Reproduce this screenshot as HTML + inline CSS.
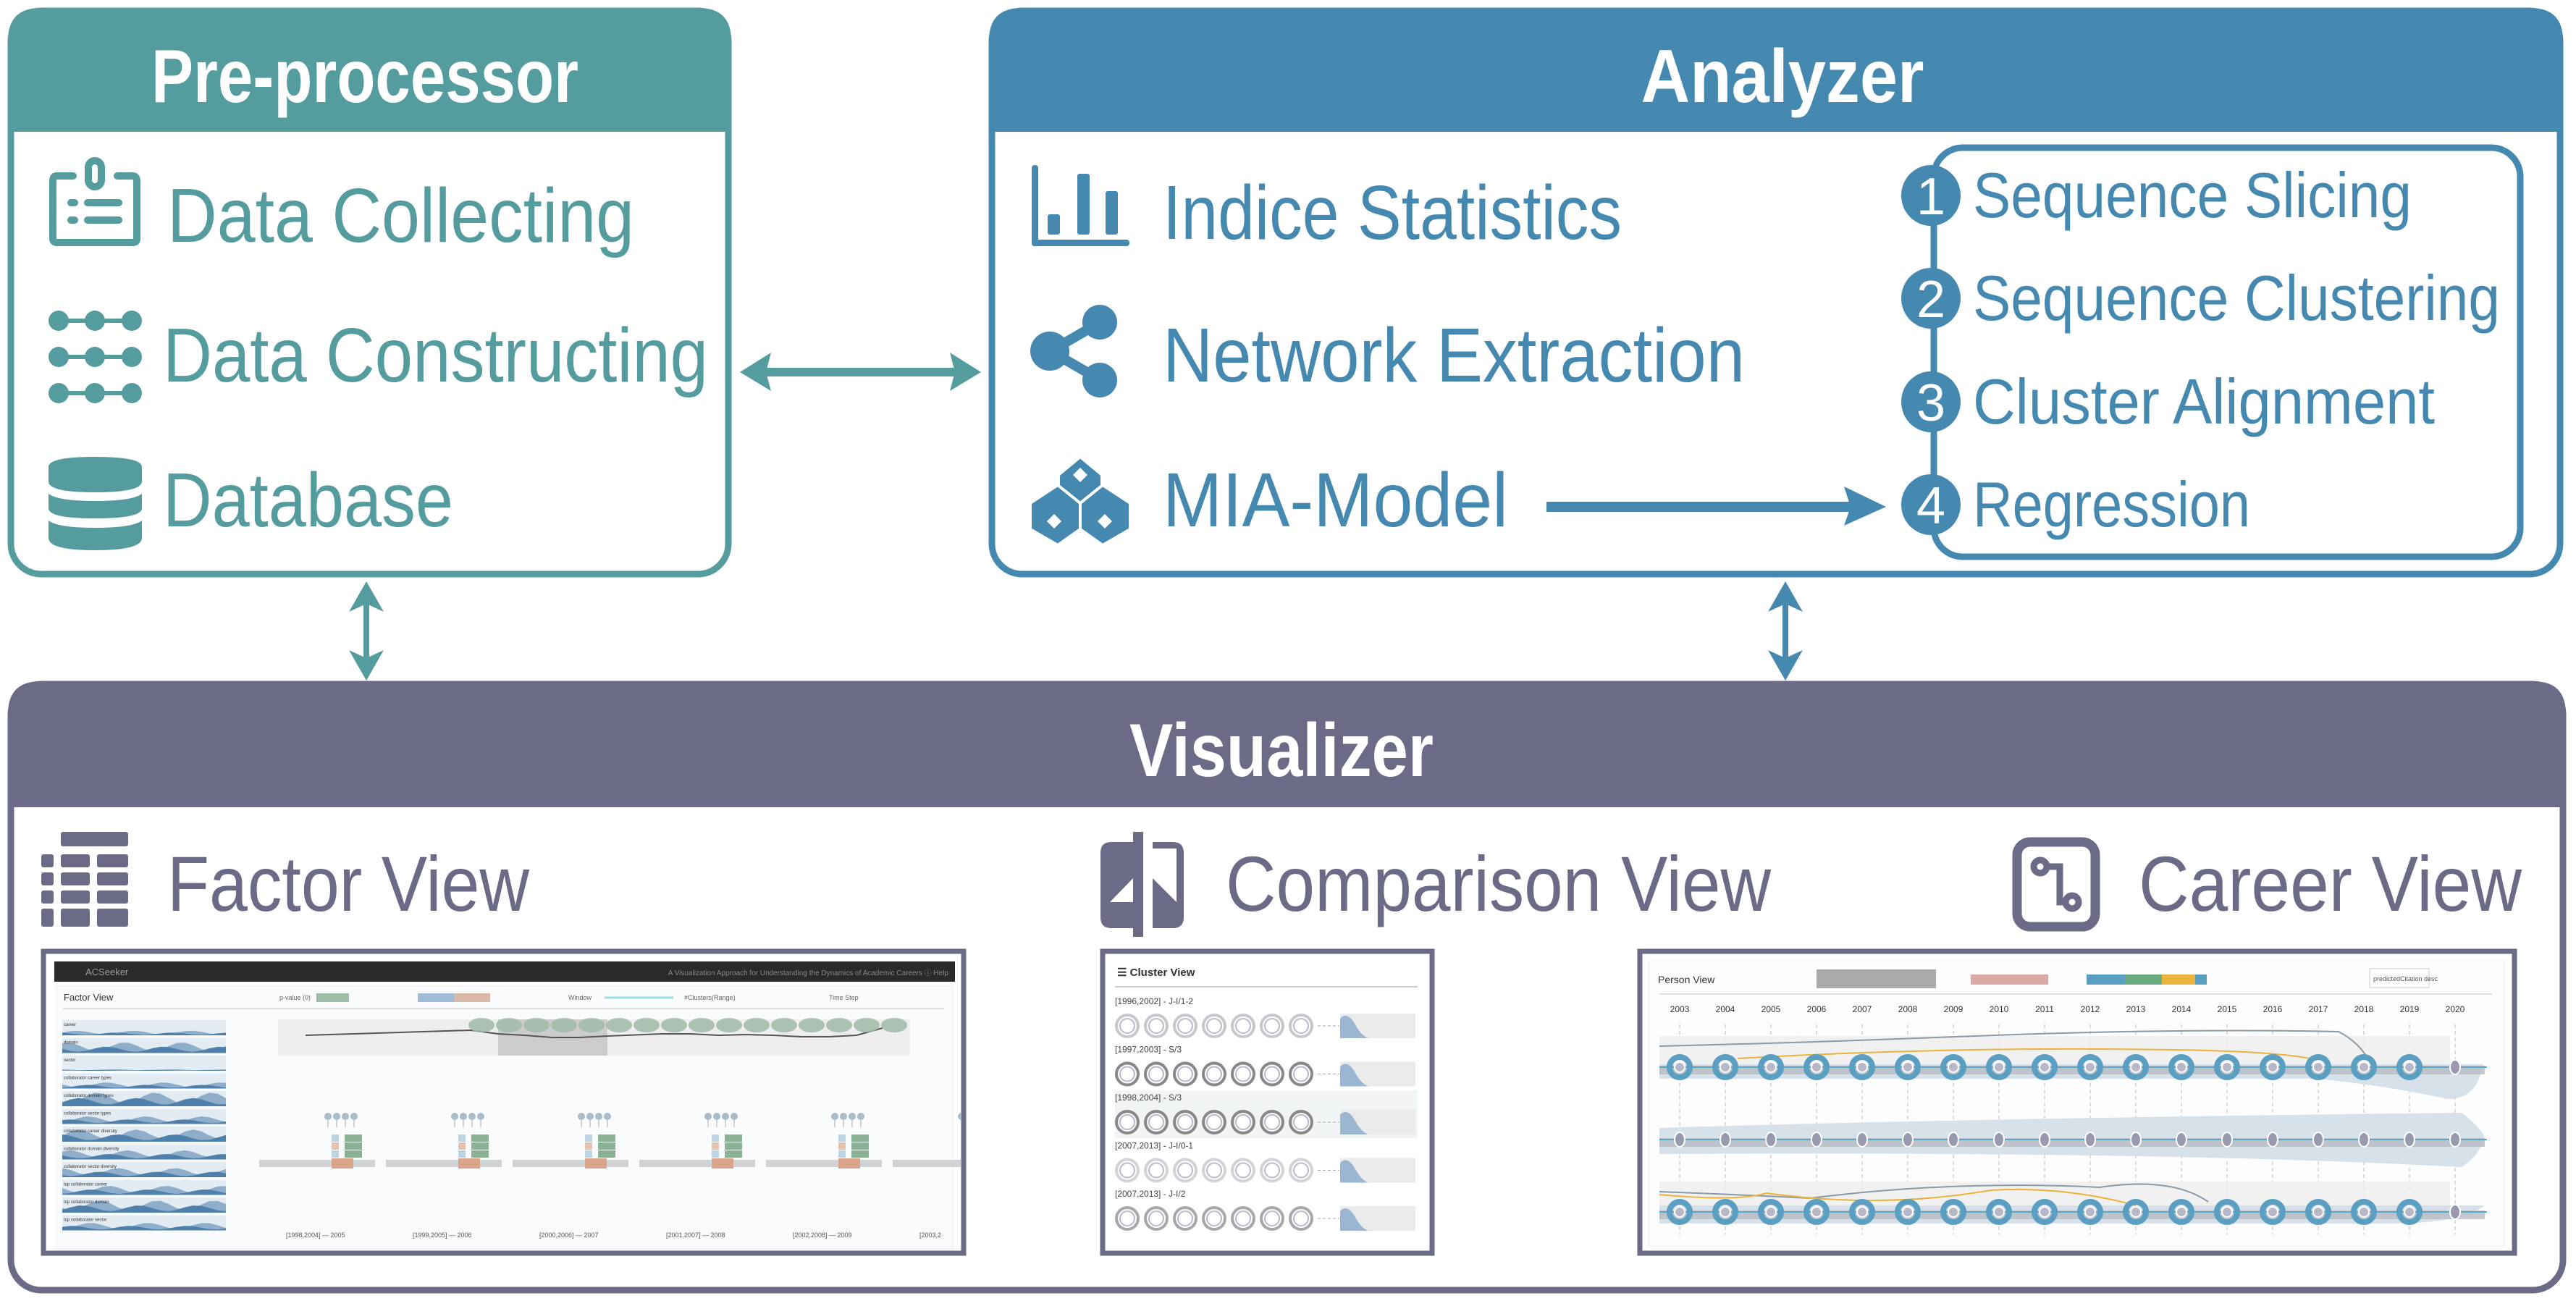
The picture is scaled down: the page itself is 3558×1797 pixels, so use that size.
<!DOCTYPE html>
<html><head><meta charset="utf-8"><style>
html,body{margin:0;padding:0;background:#fff;}
svg{display:block;}
text{font-family:"Liberation Sans",sans-serif;}
</style></head><body>
<svg id="s" width="3558" height="1797" viewBox="0 0 3558 1797" xmlns="http://www.w3.org/2000/svg">
<defs><clipPath id="fclip"><rect x="64" y="1318" width="1263" height="409"/></clipPath></defs>
<!-- Pre-processor -->
<path d="M11,182 V56 Q11,11 56,11 H965 Q1010,11 1010,56 V182 Z" fill="#559c9e"/>
<rect x="15" y="15" width="991" height="778" rx="42" fill="none" stroke="#559c9e" stroke-width="9"/>
<text x="504" y="141" text-anchor="middle" font-size="104" font-weight="bold" fill="#fff" textLength="590" lengthAdjust="spacingAndGlyphs">Pre-processor</text>
<g fill="none" stroke="#559c9e" stroke-width="10" stroke-linecap="round">
<path d="M101,243 H78 Q73,243 73,250 V330 Q73,335 80,335 H183 Q189,335 189,330 V250 Q189,243 183,243 H162"/>
<rect x="122" y="222" width="18" height="36" rx="9"/>
<line x1="98" y1="280" x2="103" y2="280"/><line x1="121" y1="280" x2="164" y2="280"/>
<line x1="98" y1="304" x2="103" y2="304"/><line x1="121" y1="304" x2="164" y2="304"/>
</g>
<g fill="#559c9e" stroke="#559c9e" stroke-width="6">
<line x1="81" y1="443" x2="182" y2="443"/><line x1="81" y1="493" x2="182" y2="493"/><line x1="81" y1="543" x2="182" y2="543"/>
</g>
<g fill="#559c9e">
<ellipse cx="81" cy="443" rx="14" ry="14"/><ellipse cx="131" cy="443" rx="14" ry="14"/><ellipse cx="182" cy="443" rx="14" ry="14"/>
<ellipse cx="81" cy="493" rx="14" ry="14"/><ellipse cx="131" cy="493" rx="14" ry="14"/><ellipse cx="182" cy="493" rx="14" ry="14"/>
<ellipse cx="81" cy="543" rx="14" ry="14"/><ellipse cx="131" cy="543" rx="14" ry="14"/><ellipse cx="182" cy="543" rx="14" ry="14"/>
</g>
<g fill="#559c9e">
<path d="M67,645 Q67,631 131,631 Q196,631 196,645 V665 Q196,680 131,680 Q67,680 67,665 Z"/>
<path d="M67,682 Q80,692 131,692 Q183,692 196,682 V702 Q196,716 131,716 Q67,716 67,702 Z"/>
<path d="M67,719 Q80,729 131,729 Q183,729 196,719 V743 Q196,760 131,760 Q67,760 67,743 Z"/>
</g>
<g fill="#559c9e" font-size="106">
<text x="231" y="334" textLength="645" lengthAdjust="spacingAndGlyphs">Data Collecting</text>
<text x="225" y="527" textLength="753" lengthAdjust="spacingAndGlyphs">Data Constructing</text>
<text x="225" y="727" textLength="401" lengthAdjust="spacingAndGlyphs">Database</text>
</g>

<!-- Analyzer -->
<path d="M1366,182 V56 Q1366,11 1411,11 H3495 Q3540,11 3540,56 V182 Z" fill="#4689b0"/>
<rect x="1370" y="15" width="2166" height="778" rx="42" fill="none" stroke="#4689b0" stroke-width="9"/>
<text x="2462" y="141" text-anchor="middle" font-size="104" font-weight="bold" fill="#fff" textLength="391" lengthAdjust="spacingAndGlyphs">Analyzer</text>
<g fill="#4689b0">
<rect x="1425" y="228" width="9" height="112" rx="4"/>
<rect x="1425" y="331" width="135" height="9" rx="4"/>
<rect x="1447" y="296" width="17" height="28" rx="3"/>
<rect x="1488" y="240" width="17" height="84" rx="3"/>
<rect x="1527" y="264" width="17" height="60" rx="3"/>
</g>
<g fill="#4689b0" stroke="#4689b0">
<line x1="1451" y1="485" x2="1520" y2="445" stroke-width="14"/>
<line x1="1451" y1="485" x2="1520" y2="525" stroke-width="14"/>
<circle cx="1519" cy="445" r="24" stroke="none"/>
<circle cx="1450" cy="485" r="27" stroke="none"/>
<circle cx="1519" cy="525" r="24" stroke="none"/>
</g>
<g fill="#4689b0" stroke="#fff" stroke-width="4">
<polygon points="1492,631 1522,656 1522,692 1492,717 1462,692 1462,656"/>
<polygon points="1461,670 1492,695 1492,731 1461,753 1423,731 1423,695"/>
<polygon points="1523,670 1561,695 1561,731 1523,753 1492,731 1492,695"/>
</g>
<g fill="#fff"><polygon points="1492,646 1502,656 1492,666 1482,656"/><polygon points="1456,710 1466,720 1456,730 1446,720"/><polygon points="1526,710 1536,720 1526,730 1516,720"/></g>
<g fill="#4689b0" font-size="106">
<text x="1606" y="330" textLength="634" lengthAdjust="spacingAndGlyphs">Indice Statistics</text>
<text x="1606" y="527" textLength="804" lengthAdjust="spacingAndGlyphs">Network Extraction</text>
<text x="1606" y="727" textLength="477" lengthAdjust="spacingAndGlyphs">MIA-Model</text>
</g>
<rect x="2671" y="204" width="810" height="565" rx="40" fill="none" stroke="#4689b0" stroke-width="9"/>
<g fill="#4689b0"><ellipse cx="2667" cy="270" rx="41" ry="42"/><ellipse cx="2667" cy="412" rx="41" ry="42"/><ellipse cx="2667" cy="555" rx="41" ry="42"/><ellipse cx="2667" cy="697" rx="41" ry="42"/></g>
<g fill="#fff" font-size="72" text-anchor="middle">
<text x="2667" y="296">1</text><text x="2667" y="438">2</text><text x="2667" y="581">3</text><text x="2667" y="723">4</text>
</g>
<g fill="#4689b0" font-size="88">
<text x="2725" y="300" textLength="606" lengthAdjust="spacingAndGlyphs">Sequence Slicing</text>
<text x="2725" y="442" textLength="728" lengthAdjust="spacingAndGlyphs">Sequence Clustering</text>
<text x="2725" y="585" textLength="638" lengthAdjust="spacingAndGlyphs">Cluster Alignment</text>
<text x="2725" y="727" textLength="383" lengthAdjust="spacingAndGlyphs">Regression</text>
</g>
<line x1="2136" y1="700" x2="2590" y2="700" stroke="#4689b0" stroke-width="14"/>
<polygon points="2547,672 2605,700 2547,726 2556,700" fill="#4689b0"/>
<line x1="1040" y1="514" x2="1337" y2="514" stroke="#559c9e" stroke-width="12"/>
<polygon points="1022,514 1065,487 1058,514 1065,540" fill="#559c9e"/>
<polygon points="1355,514 1312,487 1319,514 1312,540" fill="#559c9e"/>
<line x1="506" y1="820" x2="506" y2="925" stroke="#559c9e" stroke-width="8"/>
<polygon points="506,803 530,845 506,834 482,845" fill="#559c9e"/>
<polygon points="506,940 530,898 506,909 482,898" fill="#559c9e"/>
<line x1="2466" y1="820" x2="2466" y2="925" stroke="#4689b0" stroke-width="8"/>
<polygon points="2466,803 2490,845 2466,834 2442,845" fill="#4689b0"/>
<polygon points="2466,940 2490,898 2466,909 2442,898" fill="#4689b0"/>

<!-- Visualizer -->
<path d="M11,1115 V986 Q11,941 56,941 H3499 Q3544,941 3544,986 V1115 Z" fill="#6b6a87"/>
<rect x="15" y="945" width="3525" height="837" rx="42" fill="none" stroke="#6b6a87" stroke-width="9"/>
<text x="1770" y="1072" text-anchor="middle" font-size="104" font-weight="bold" fill="#fff" textLength="420" lengthAdjust="spacingAndGlyphs">Visualizer</text>
<g fill="#6b6a87">
<rect x="84" y="1149" width="93" height="20" rx="3"/>
<rect x="57" y="1180" width="17" height="18" rx="3"/><rect x="84" y="1180" width="40" height="18" rx="3"/><rect x="134" y="1180" width="43" height="18" rx="3"/>
<rect x="57" y="1205" width="17" height="18" rx="3"/><rect x="84" y="1205" width="40" height="18" rx="3"/><rect x="134" y="1205" width="43" height="18" rx="3"/>
<rect x="57" y="1230" width="17" height="18" rx="3"/><rect x="84" y="1230" width="40" height="18" rx="3"/><rect x="134" y="1230" width="43" height="18" rx="3"/>
<rect x="57" y="1255" width="17" height="25" rx="3"/><rect x="84" y="1255" width="40" height="25" rx="3"/><rect x="134" y="1255" width="43" height="25" rx="3"/>
</g>
<g fill="#6b6a87">
<path d="M1565,1163 H1535 Q1520,1163 1520,1178 V1267 Q1520,1282 1535,1282 H1565 Z"/>
<rect x="1565" y="1149" width="14" height="145"/>
<path d="M1592,1163 H1620 Q1635,1163 1635,1178 V1267 Q1635,1282 1620,1282 H1592 Z"/>
</g>
<polygon points="1533,1246 1565,1246 1565,1213" fill="#fff"/>
<path d="M1592,1172 H1625 V1246 L1592,1213 Z" fill="#fff"/>
<rect x="2786" y="1163" width="108" height="117" rx="18" fill="none" stroke="#6b6a87" stroke-width="13"/>
<g fill="none" stroke="#6b6a87" stroke-width="9"><circle cx="2818" cy="1197" r="9"/><circle cx="2862" cy="1246" r="9"/><path d="M2827,1197 H2845 V1246 H2853"/></g>
<g fill="#6b6a87" font-size="108">
<text x="231" y="1258" textLength="500" lengthAdjust="spacingAndGlyphs">Factor View</text>
<text x="1693" y="1258" textLength="753" lengthAdjust="spacingAndGlyphs">Comparison View</text>
<text x="2954" y="1258" textLength="529" lengthAdjust="spacingAndGlyphs">Career View</text>
</g>

<rect x="60" y="1314" width="1271" height="417" fill="#fff" stroke="#6b6a87" stroke-width="7"/>
<rect x="1523" y="1314" width="455" height="417" fill="#fff" stroke="#6b6a87" stroke-width="7"/>
<rect x="2265" y="1314" width="1208" height="417" fill="#fff" stroke="#6b6a87" stroke-width="7"/>

<g clip-path="url(#fclip)">
<rect x="75" y="1328" width="1244" height="28" fill="#2a2a2a"/>
<text x="118" y="1347" font-size="13" fill="#999">ACSeeker</text>
<text x="1310" y="1347" font-size="10" fill="#888" text-anchor="end">A Visualization Approach for Understanding the Dynamics of Academic Careers  ⓘ Help</text>
<rect x="78" y="1362" width="1238" height="364" fill="#fafbfc" stroke="#eee"/>
<text x="88" y="1382" font-size="13" fill="#333">Factor View</text>
<text x="386" y="1381" font-size="9" fill="#666">p-value (0)</text>
<rect x="437" y="1372" width="45" height="12" fill="#9dbfa8"/>
<rect x="577" y="1372" width="100" height="12" fill="#d9b8a8"/><rect x="577" y="1372" width="50" height="12" fill="#9fbdd6"/>
<text x="785" y="1381" font-size="9" fill="#666">Window</text>
<text x="945" y="1381" font-size="9" fill="#666">#Clusters(Range)</text>
<text x="1145" y="1381" font-size="9" fill="#666">Time Step</text>
<line x1="835" y1="1378" x2="930" y2="1378" stroke="#9dd" stroke-width="3"/>
<line x1="87" y1="1393" x2="1304" y2="1393" stroke="#ddd" stroke-width="2"/>
<rect x="384" y="1408" width="873" height="50" fill="#eeeeee"/>
<rect x="688" y="1408" width="151" height="50" fill="#cccccc"/>
<polyline points="422,1430 650,1423 688,1428 725,1430 763,1433 800,1433 839,1431 915,1428 954,1428 992,1430 1030,1429 1068,1430 1107,1432 1145,1432 1183,1430 1219,1420" fill="none" stroke="#555" stroke-width="2"/>
<g id="fvrows"></g>
<g id="fvclusters"></g>
<g font-size="9" fill="#555">
<text x="395" y="1709">[1998,2004] — 2005</text><text x="570" y="1709">[1999,2005] — 2006</text><text x="745" y="1709">[2000,2006] — 2007</text><text x="920" y="1709">[2001,2007] — 2008</text><text x="1095" y="1709">[2002,2008] — 2009</text><text x="1270" y="1709">[2003,2</text>
</g>
</g>

<text x="1543" y="1348" font-size="15" fill="#333" font-weight="bold">☰ Cluster View</text>
<line x1="1540" y1="1363" x2="1958" y2="1363" stroke="#ccc" stroke-width="2"/>
<rect x="1540" y="1506" width="418" height="66" fill="#f1f5f6"/>
<g id="cv"></g>

<rect x="2277" y="1328" width="1182" height="393" fill="#fdfdfe" stroke="#eee"/>
<text x="2290" y="1358" font-size="14" fill="#333">Person View</text>
<rect x="2509" y="1339" width="165" height="26" fill="#aaa"/>
<rect x="2722" y="1346" width="107" height="14" fill="#d8a8a5"/>
<rect x="2882" y="1346" width="166" height="14" fill="#5a9fc2"/><rect x="2935" y="1346" width="51" height="14" fill="#6aaa80"/><rect x="2986" y="1346" width="46" height="14" fill="#eab43c"/>
<rect x="3273" y="1338" width="82" height="26" fill="#fff" stroke="#ccc"/>
<text x="3278" y="1355" font-size="9" fill="#555">predictedCitation desc</text>
<line x1="2292" y1="1373" x2="3442" y2="1373" stroke="#ddd" stroke-width="2"/>
<g id="pv"></g>
</svg>
<script>
var NS="http://www.w3.org/2000/svg";
function el(p,t,a){var e=document.createElementNS(NS,t);for(var k in a)e.setAttribute(k,a[k]);p.appendChild(e);return e;}
var fr=document.getElementById("fvrows");
var names=["career","domain","sector","collaborator career types","collaborator domain types","collaborator sector types","collaborator career diversity","collaborator domain diversity","collaborator sector diversity","top collaborator career","top collaborator domain","top collaborator sector"];
var dens=[0.3,0.7,0.1,0.4,0.9,0.5,0.8,0.6,0.6,0.6,0.8,0.5];
function wave(x,y,w,h,d,ph){var s="M"+x+","+(y+h);for(var i=0;i<=20;i++){var xx=x+w*i/20;var v=d*(0.6+0.4*Math.sin(i*0.9+ph));s+=" L"+xx+","+(y+h-h*v);}return s+" L"+(x+w)+","+(y+h)+" Z";}
for(var i=0;i<12;i++){var y=1409+i*24.5;
el(fr,"rect",{x:86,y:y,width:226,height:21,fill:"#e4ecf3"});
el(fr,"path",{d:wave(86,y,226,21,dens[i],i),fill:"#8eaecb"});
el(fr,"path",{d:wave(86,y,226,21,dens[i]*0.6,i+2),fill:"#4f7fab"});
var t=el(fr,"text",{x:88,y:y+8,"font-size":6,fill:"#333"});t.textContent=names[i];}
for(var k=0;k<16;k++){var cx=665+k*38;el(fr,"ellipse",{cx:cx,cy:1416,rx:18,ry:10,fill:"#9fb8a6",opacity:0.85});}
var fc=document.getElementById("fvclusters");
for(var c=0;c<6;c++){var x0=358+c*175;
el(fc,"rect",{x:x0,y:1602,width:160,height:10,fill:"#cfd3d6"});
el(fc,"rect",{x:x0+100,y:1600,width:30,height:14,fill:"#dba58b"});
for(var j=0;j<4;j++){el(fc,"circle",{cx:x0+95+j*12,cy:1542,r:5,fill:"#a9bcc9"});el(fc,"line",{x1:x0+95+j*12,y1:1547,x2:x0+95+j*12,y2:1557,stroke:"#aaa"});}
for(var r=0;r<3;r++){el(fc,"rect",{x:x0+118,y:1567+r*11,width:24,height:10,fill:"#8ab396"});el(fc,"rect",{x:x0+100,y:1567+r*11,width:10,height:10,fill:r==1?"#e6c3b1":"#bcd4e4"});}
}
var cv=document.getElementById("cv");
var labs=["[1996,2002] - J-I/1-2","[1997,2003] - S/3","[1998,2004] - S/3","[2007,2013] - J-I/0-1","[2007,2013] - J-I/2"];
var cols=["#c8c8cc","#888","#888","#d3d3d6","#a8a8ac"];
for(var i=0;i<5;i++){var cy=1417+i*66.5;
var t=el(cv,"text",{x:1540,y:cy-30,"font-size":12,fill:"#444"});t.textContent=labs[i];
for(var j=0;j<7;j++){el(cv,"circle",{cx:1557+j*40,cy:cy,r:15,fill:"none",stroke:cols[i],"stroke-width":4});el(cv,"circle",{cx:1557+j*40,cy:cy,r:10,fill:"#fff",stroke:"#b9b9cc","stroke-width":2});}
el(cv,"line",{x1:1820,y1:cy,x2:1850,y2:cy,stroke:"#aaa","stroke-dasharray":"4 3"});
el(cv,"rect",{x:1851,y:cy-17,width:104,height:34,fill:"#ebebeb"});
el(cv,"path",{d:"M1851,"+(cy+17)+" V"+(cy-10)+" Q1860,"+(cy-20)+" 1870,"+(cy-5)+" Q1880,"+(cy+14)+" 1890,"+(cy+17)+" Z",fill:"#9ab6d0"});}
var pv=document.getElementById("pv");
for(var k=0;k<18;k++){var x=2320+k*63;
var t=el(pv,"text",{x:x,y:1398,"font-size":12,fill:"#333","text-anchor":"middle"});t.textContent=2003+k;
el(pv,"line",{x1:x,y1:1415,x2:x,y2:1705,stroke:"#bbb","stroke-dasharray":"5 4"});}
el(pv,"rect",{x:2292,y:1431,width:1092,height:50,fill:"#eeeeee",opacity:0.8});
el(pv,"rect",{x:2292,y:1632,width:1092,height:45,fill:"#eeeeee",opacity:0.8});
el(pv,"path",{d:"M2292,1470 H3430 Q3420,1520 3380,1518 Q3300,1500 3200,1490 H2292 Z",fill:"#d6e1ea"});
el(pv,"path",{d:"M2292,1558 Q2700,1545 3400,1537 Q3430,1560 3432,1574 Q3420,1600 3400,1612 Q3000,1590 2292,1594 Z",fill:"#d6e1ea"});
el(pv,"path",{d:"M2292,1665 H3432 Q3400,1690 3300,1690 H2292 Z",fill:"#d6e1ea"});
el(pv,"path",{d:"M2292,1445 Q2500,1440 2700,1432 Q3000,1420 3230,1425 Q3260,1440 3275,1470",fill:"none",stroke:"#8a9aa6","stroke-width":2});
el(pv,"path",{d:"M2400,1462 Q2700,1445 3000,1450 Q3150,1452 3200,1464",fill:"none",stroke:"#eab43c","stroke-width":2});
el(pv,"path",{d:"M2292,1646 Q2400,1650 2500,1655 Q2700,1630 2900,1640 Q3000,1625 3050,1660",fill:"none",stroke:"#8a9aa6","stroke-width":2});
el(pv,"path",{d:"M2292,1650 Q2400,1660 2440,1648 Q2600,1670 2750,1644 Q2850,1638 2950,1665",fill:"none",stroke:"#eab43c","stroke-width":2});
var rows=[1474,1574,1674];
for(var r=0;r<3;r++){var y=rows[r];
el(pv,"rect",{x:2292,y:y-2,width:1140,height:12,fill:"#b8bcc2",opacity:0.8});
el(pv,"line",{x1:2292,y1:y,x2:3435,y2:y,stroke:"#5aa7c9","stroke-width":2});
for(var k=0;k<18;k++){var x=2320+k*63;
if(r==1||k==17){el(pv,"ellipse",{cx:x,cy:y,rx:7,ry:10,fill:"#9a9aae",stroke:"#fff","stroke-width":2});}
else{el(pv,"circle",{cx:x,cy:y,r:14,fill:"none",stroke:"#5a9fc2","stroke-width":8});el(pv,"circle",{cx:x,cy:y,r:7,fill:"#b8b8c8",stroke:"#fff","stroke-width":2});}}}
</script>
</body></html>
